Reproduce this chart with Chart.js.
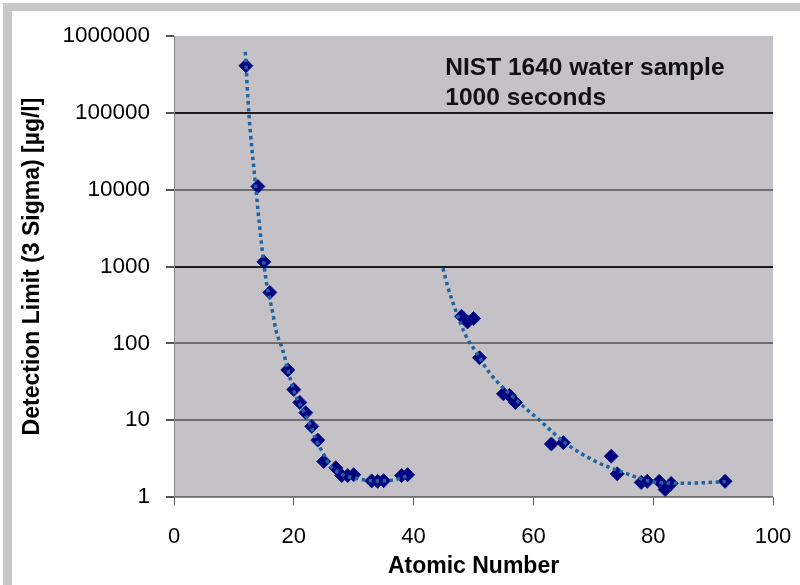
<!DOCTYPE html>
<html>
<head>
<meta charset="utf-8">
<script src="https://cdn.jsdelivr.net/npm/chart.js@4/dist/chart.umd.min.js"></script>
<style>
  html, body { margin: 0; padding: 0; background: #fff; }
  #wrap { width: 800px; height: 585px; position: relative; }
</style>
</head>
<body>
<div id="wrap"><canvas id="dlChart" width="800" height="585"></canvas></div>
<script>
// measured points, light elements (Z <= 39)
var lightZ = [12, 14, 15, 16, 19, 20, 21, 22, 23, 24, 25, 27, 28, 29, 30, 33, 34, 35, 38, 39];
var lightDL = [410000, 11000, 1150, 460, 45, 25, 17, 12.5, 8.3, 5.5, 2.9, 2.4, 1.9, 1.9, 1.95, 1.62, 1.6, 1.63, 1.9, 1.95];

// measured points, heavy elements
var heavyZ = [48, 49, 50, 51, 55, 56, 57, 63, 65, 73, 74, 78, 79, 81, 82, 83, 92];
var heavyDL = [225, 190, 210, 65, 22, 21, 17, 4.9, 5.1, 3.4, 2.0, 1.55, 1.6, 1.6, 1.25, 1.5, 1.6];

// trend curves
var lightTrendZ = [11.9, 12.5, 13.5, 14.6, 15.45, 16.45, 17, 18.1, 20, 21.8, 22.9, 23.8, 24.9, 26, 27.7, 30.4, 33.8, 36.6, 39];
var lightTrendDL = [620000, 99000, 14000, 2000, 605, 259, 150, 84, 24, 12.3, 8.2, 5.4, 3.7, 2.6, 2.03, 1.75, 1.62, 1.66, 1.88];

var heavyTrendZ = [44.9, 45.7, 46.8, 48.8, 50.2, 52.7, 56.6, 61, 65.4, 70.4, 75.4, 79.9, 85.4, 92.1];
var heavyTrendDL = [950, 547, 300, 122, 82, 41, 20, 10, 5.0, 2.9, 2.04, 1.58, 1.51, 1.58];

var xTicks = [0, 20, 40, 60, 80, 100];
var yTicks = [1, 10, 100, 1000, 10000, 100000, 1000000];
var noteLines = ['NIST 1640 water sample', '1000 seconds'];

function pairs(xs, ys) {
    return xs.map(function (x, i) { return { x: x, y: ys[i] }; });
}

var frameAndPlot = {
    id: 'frameAndPlot',
    beforeDraw: function (chart) {
        var ctx = chart.ctx, a = chart.chartArea;
        ctx.save();
        ctx.fillStyle = '#fff';
        ctx.fillRect(0, 0, chart.width, chart.height);
        ctx.fillStyle = '#c8c8c8';
        ctx.fillRect(3, 3, chart.width - 3, 8);
        ctx.fillRect(3, 3, 9, chart.height - 3);
        ctx.fillStyle = '#c4c2c6';
        ctx.fillRect(a.left, a.top, a.right - a.left, a.bottom - a.top);
        ctx.restore();
    },
    afterDraw: function (chart) {
        var ctx = chart.ctx, a = chart.chartArea;
        var x = chart.scales.x.getPixelForValue(45.3);
        ctx.save();
        ctx.fillStyle = '#111';
        ctx.font = 'bold 24.5px "Liberation Sans", Arial, sans-serif';
        ctx.textBaseline = 'middle';
        ctx.textAlign = 'left';
        noteLines.forEach(function (t, i) { ctx.fillText(t, x, a.top + 32 + i * 30); });
        ctx.restore();
    }
};

var markerStyle = {
    type: 'scatter',
    pointStyle: 'rectRot',
    pointRadius: 7,
    pointBackgroundColor: '#000080',
    pointBorderColor: '#0c1c88',
    pointBorderWidth: 1,
    showLine: false,
    order: 1
};

var trendStyle = {
    type: 'line',
    borderColor: '#1f63a0',
    borderWidth: 3.5,
    borderDash: [3.5, 3.5],
    borderCapStyle: 'butt',
    pointRadius: 0,
    fill: false,
    cubicInterpolationMode: 'monotone',
    order: 0
};

new Chart(document.getElementById('dlChart'), {
    type: 'scatter',
    data: {
        datasets: [
            Object.assign({ label: 'Z <= 39', data: pairs(lightZ, lightDL) }, markerStyle),
            Object.assign({ label: 'Z >= 48', data: pairs(heavyZ, heavyDL) }, markerStyle),
            Object.assign({ label: 'trend light', data: pairs(lightTrendZ, lightTrendDL) }, trendStyle),
            Object.assign({ label: 'trend heavy', data: pairs(heavyTrendZ, heavyTrendDL) }, trendStyle)
        ]
    },
    options: {
        responsive: false,
        animation: false,
        layout: { padding: { top: 36, right: 27, left: 0, bottom: 0 } },
        plugins: { legend: { display: false }, tooltip: { enabled: false } },
        scales: {
            x: {
                type: 'linear', min: 0, max: 100,
                afterBuildTicks: function (s) { s.ticks = xTicks.map(function (v) { return { value: v }; }); },
                afterFit: function (s) { s.height = 88; s.paddingLeft = 0; s.paddingRight = 0; },
                grid: { drawOnChartArea: false, drawTicks: true, tickLength: 8, tickColor: '#555' },
                border: { color: '#888', width: 1 },
                ticks: { color: '#000', padding: 19, font: { family: '"Liberation Sans", Arial', size: 22 } },
                title: {
                    display: true, text: 'Atomic Number', color: '#000',
                    padding: { top: 0, bottom: 5 },
                    font: { family: '"Liberation Sans", Arial', size: 23, weight: 'bold' }
                }
            },
            y: {
                type: 'logarithmic', min: 1, max: 1000000,
                afterBuildTicks: function (s) { s.ticks = yTicks.map(function (v) { return { value: v }; }); },
                afterFit: function (s) { s.width = 174; s.paddingTop = 0; s.paddingBottom = 0; },
                grid: {
                    tickLength: 8, tickColor: '#555', lineWidth: 2,
                    color: function (c) {
                        var v = c.tick && c.tick.value;
                        if (v === 1000000) return 'rgba(0,0,0,0)';
                        if (v === 100000 || v === 1000) return '#1a1a1a';
                        return '#6e6e6e';
                    }
                },
                border: { color: '#888', width: 1 },
                ticks: {
                    color: '#000', padding: 16,
                    font: { family: '"Liberation Sans", Arial', size: 22.5 },
                    callback: function (v) { return String(v); }
                },
                title: {
                    display: true, text: 'Detection Limit (3 Sigma) [µg/l]', color: '#000',
                    padding: { top: 19, bottom: 0 },
                    font: { family: '"Liberation Sans", Arial', size: 23, weight: 'bold' }
                }
            }
        }
    },
    plugins: [frameAndPlot]
});
</script>
</body>
</html>
